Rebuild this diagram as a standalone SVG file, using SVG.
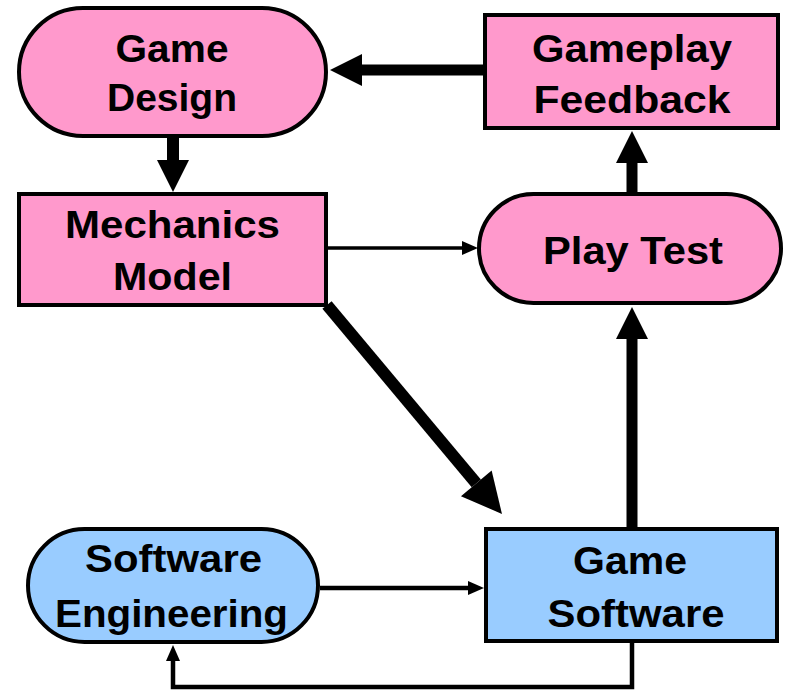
<svg xmlns="http://www.w3.org/2000/svg" width="786" height="691" viewBox="0 0 786 691">
  <style>
    .node { stroke: #000; stroke-width: 4; }
    .pink { fill: #FF99CC; }
    .blue { fill: #99CCFF; }
    .label { font-family: "Liberation Sans", Arial, Helvetica, sans-serif; font-weight: bold; font-size: 38px; fill: #000; text-anchor: middle; }
    .edge { fill: none; stroke: #000; }
    .thick { stroke-width: 11; }
    .heavy { stroke-width: 12; }
    .thin { stroke-width: 3.5; }
    .mid { stroke-width: 4.5; }
  </style>
  <defs>
    <marker id="head-big" markerUnits="userSpaceOnUse" markerWidth="32" markerHeight="32" refX="0" refY="16" orient="auto" overflow="visible">
      <path d="M0,0 L32,16 L0,32 Z" fill="#000"/>
    </marker>
    <marker id="head-diag" markerUnits="userSpaceOnUse" markerWidth="40" markerHeight="40" refX="0" refY="20" orient="auto" overflow="visible">
      <path d="M0,0 L40,20 L0,40 Z" fill="#000"/>
    </marker>
    <marker id="head-small" markerUnits="userSpaceOnUse" markerWidth="16" markerHeight="14" refX="0" refY="7" orient="auto" overflow="visible">
      <path d="M0,0 L16,7 L0,14 Z" fill="#000"/>
    </marker>
  </defs>

  <g id="connectors">
    <!-- Gameplay Feedback to Game Design -->
    <line class="edge thick" x1="483" y1="70" x2="362" y2="70" marker-end="url(#head-big)"/>
    <!-- Game Design to Mechanics Model -->
    <line class="edge heavy" x1="173" y1="138" x2="173" y2="160" marker-end="url(#head-big)"/>
    <!-- Mechanics Model to Play Test -->
    <line class="edge thin" x1="328" y1="248" x2="462" y2="248" marker-end="url(#head-small)"/>
    <!-- Play Test to Gameplay Feedback -->
    <line class="edge thick" x1="632" y1="192" x2="632" y2="163" marker-end="url(#head-big)"/>
    <!-- Game Software to Play Test -->
    <line class="edge thick" x1="632" y1="527" x2="632" y2="339" marker-end="url(#head-big)"/>
    <!-- Mechanics Model to Game Software -->
    <line class="edge heavy" x1="327" y1="305" x2="476.3" y2="483.3" marker-end="url(#head-diag)"/>
    <!-- Software Engineering to Game Software -->
    <line class="edge mid" x1="320" y1="588" x2="468" y2="588" marker-end="url(#head-small)"/>
    <!-- Game Software back to Software Engineering -->
    <path class="edge mid" d="M632,643 V687 H173 V661" marker-end="url(#head-small)"/>
  </g>

  <g id="game-design">
    <rect class="node pink" x="19" y="8" width="307" height="128" rx="64" ry="64"/>
    <text class="label" x="172" y="62" textLength="113" lengthAdjust="spacingAndGlyphs">Game</text>
    <text class="label" x="172" y="111" textLength="130" lengthAdjust="spacingAndGlyphs">Design</text>
  </g>

  <g id="mechanics-model">
    <rect class="node pink" x="19" y="194" width="307" height="111"/>
    <text class="label" x="172.5" y="238" textLength="215" lengthAdjust="spacingAndGlyphs">Mechanics</text>
    <text class="label" x="172.5" y="290" textLength="119" lengthAdjust="spacingAndGlyphs">Model</text>
  </g>

  <g id="gameplay-feedback">
    <rect class="node pink" x="485" y="15" width="293" height="113"/>
    <text class="label" x="632" y="62" textLength="200" lengthAdjust="spacingAndGlyphs">Gameplay</text>
    <text class="label" x="632" y="113" textLength="197" lengthAdjust="spacingAndGlyphs">Feedback</text>
  </g>

  <g id="play-test">
    <rect class="node pink" x="479" y="194" width="302" height="109" rx="54.5" ry="54.5"/>
    <text class="label" x="633" y="264" textLength="180" lengthAdjust="spacingAndGlyphs">Play Test</text>
  </g>

  <g id="software-engineering">
    <rect class="node blue" x="28" y="529" width="290" height="113" rx="56.5" ry="56.5"/>
    <text class="label" x="173.5" y="572" textLength="177" lengthAdjust="spacingAndGlyphs">Software</text>
    <text class="label" x="171.5" y="627" textLength="233" lengthAdjust="spacingAndGlyphs">Engineering</text>
  </g>

  <g id="game-software">
    <rect class="node blue" x="486" y="529" width="291" height="112"/>
    <text class="label" x="630" y="574" textLength="114" lengthAdjust="spacingAndGlyphs">Game</text>
    <text class="label" x="636" y="627" textLength="177" lengthAdjust="spacingAndGlyphs">Software</text>
  </g>
</svg>
